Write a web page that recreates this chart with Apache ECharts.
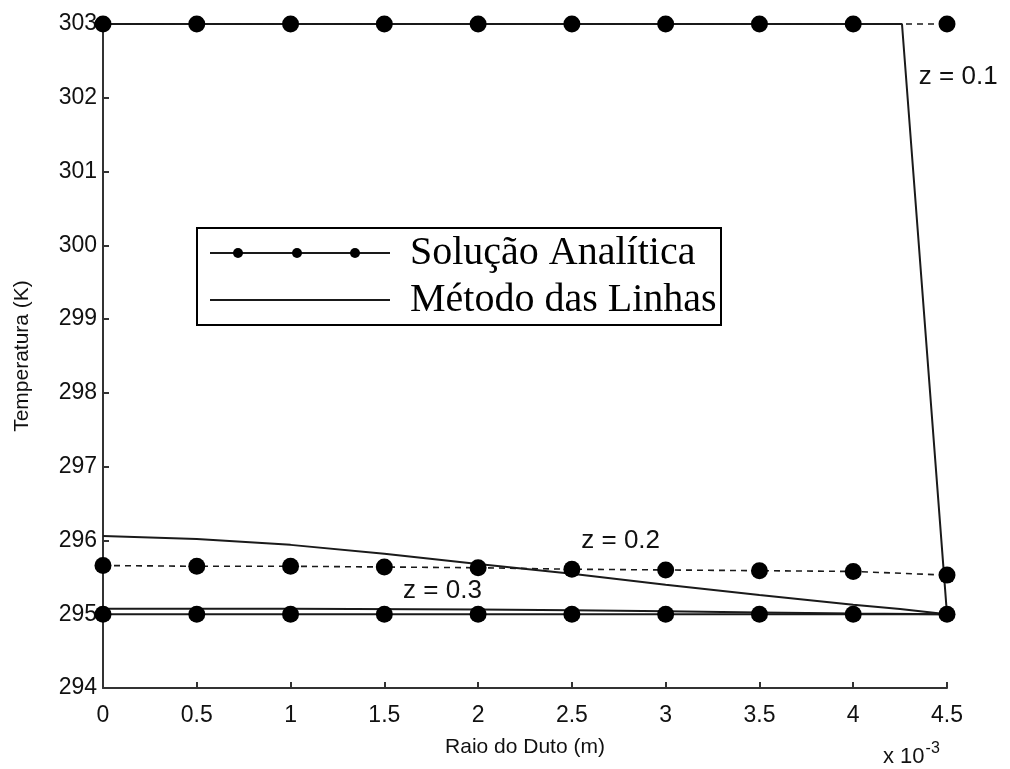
<!DOCTYPE html>
<html>
<head>
<meta charset="utf-8">
<script src="https://cdn.jsdelivr.net/npm/echarts@6/dist/echarts.min.js"></script>
<style>
  html, body { margin: 0; padding: 0; background: #fff; }
  #chart { width: 1010px; height: 769px; }
</style>
</head>
<body>
<div id="chart"></div>
<script>
// Radial positions (x 10^-3 m) of the analytic solution samples
const raio = [0, 0.5, 1.0, 1.5, 2.0, 2.5, 3.0, 3.5, 4.0, 4.5];

// Analytic solution, temperature (K) at each radial sample
const analitica01 = [303, 303, 303, 303, 303, 303, 303, 303, 303, 303];
const analitica02 = [295.66, 295.65, 295.65, 295.64, 295.63, 295.61, 295.60, 295.59, 295.58, 295.53];
const analitica03 = [295.0, 295.0, 295.0, 295.0, 295.0, 295.0, 295.0, 295.0, 295.0, 295.0];

// Method of lines, radial nodes and temperatures (K)
const linhasX01 = [0, 4.26, 4.5];
const linhasY01 = [303, 303, 295.0];
const linhasX02 = [0, 0.5, 1.0, 1.5, 2.0, 2.5, 3.0, 3.5, 4.0, 4.25, 4.5];
const linhasY02 = [296.06, 296.02, 295.94, 295.82, 295.68, 295.55, 295.40, 295.26, 295.13, 295.07, 295.0];
const linhasX03 = [0, 1.0, 2.0, 2.5, 3.0, 3.5, 4.0, 4.5];
const linhasY03 = [295.075, 295.073, 295.065, 295.055, 295.04, 295.025, 295.01, 295.0];

// Axis ranges and labels
const xRange = [0, 4.5, 0.5];
const yRange = [294, 303, 1];
const xTitle = 'Raio do Duto (m)';
const yTitle = 'Temperatura (K)';
const legendNames = ['Solução Analítica', 'Método das Linhas'];
const curveLabels = [
  { text: 'z = 0.1', at: [4.35, 302.28] },
  { text: 'z = 0.2', at: [2.55, 296.0] },
  { text: 'z = 0.3', at: [1.6, 295.32] }
];

const pairs = (xs, ys) => xs.map((x, i) => [x, ys[i]]);

const INK = '#111';
const LINE = '#1a1a1a';
const tickFont = { fontFamily: 'Liberation Sans, Arial, sans-serif', fontSize: 23, color: INK };

function analytic(ys, dashed) {
  return {
    type: 'line', name: legendNames[0], data: pairs(raio, ys),
    symbol: 'circle', symbolSize: 17, clip: false, z: 5,
    itemStyle: { color: '#000' },
    lineStyle: { color: LINE, width: dashed ? 1.6 : 2, type: dashed ? [6, 5] : 'solid' },
    emphasis: { disabled: true }, animation: false
  };
}
function linhas(xs, ys) {
  return {
    type: 'line', name: legendNames[1], data: pairs(xs, ys),
    symbol: 'none', clip: false, z: 3,
    lineStyle: { color: LINE, width: 2 },
    emphasis: { disabled: true }, animation: false
  };
}

const chart = echarts.init(document.getElementById('chart'), null, { renderer: 'canvas' });

const option = {
  backgroundColor: '#fff',
  animation: false,
  grid: { left: 103, top: 24, right: 63, bottom: 81, containLabel: false },
  xAxis: {
    type: 'value', min: xRange[0], max: xRange[1], interval: xRange[2],
    name: xTitle, nameLocation: 'middle', nameGap: 49,
    nameTextStyle: { fontFamily: 'Liberation Sans, Arial, sans-serif', fontSize: 21, color: INK },
    axisLine: { show: true, onZero: false, lineStyle: { color: '#333', width: 2 } },
    axisTick: { show: true, inside: true, length: 6, lineStyle: { color: '#333', width: 2 } },
    axisLabel: Object.assign({ margin: 16 }, tickFont),
    splitLine: { show: false }
  },
  yAxis: {
    type: 'value', min: yRange[0], max: yRange[1], interval: yRange[2],
    name: yTitle, nameLocation: 'middle', nameGap: 70, nameRotate: 90,
    nameTextStyle: { fontFamily: 'Liberation Sans, Arial, sans-serif', fontSize: 21, color: INK },
    axisLine: { show: true, onZero: false, lineStyle: { color: '#333', width: 2 } },
    axisTick: { show: true, inside: true, length: 6, lineStyle: { color: '#333', width: 2 } },
    axisLabel: Object.assign({ margin: 6 }, tickFont),
    splitLine: { show: false }
  },
  series: [
    linhas(linhasX01, linhasY01),
    linhas(linhasX02, linhasY02),
    linhas(linhasX03, linhasY03),
    analytic(analitica01, true),
    analytic(analitica02, true),
    analytic(analitica03, false)
  ]
};
chart.setOption(option);

// Curve annotations placed in data coordinates
const labelFont = '26px "Liberation Sans", Arial, sans-serif';
const annotations = curveLabels.map(l => {
  const p = chart.convertToPixel({ gridIndex: 0 }, l.at);
  return {
    type: 'text', x: p[0], y: p[1], z: 10,
    style: { text: l.text, font: labelFont, fill: INK, textAlign: 'left', textVerticalAlign: 'middle' }
  };
});

// Axis multiplier "x 10^-3" under the right end of the x axis
const multiplier = {
  type: 'text', x: 883, y: 757, z: 10,
  style: {
    text: '{a|x 10}{b|-3}',
    textVerticalAlign: 'middle',
    rich: {
      a: { fontFamily: 'Liberation Sans, Arial, sans-serif', fontSize: 22, fill: INK, color: INK },
      b: { fontFamily: 'Liberation Sans, Arial, sans-serif', fontSize: 16, fill: INK, color: INK, padding: [0, 0, 16, 1] }
    }
  }
};

// Boxed legend: a line with three dots for the analytic solution, a plain line for the method of lines
const lg = { x: 197, y: 228, w: 524, h: 97 };
const row1 = lg.y + 25, row2 = lg.y + 72;
const legendFont = '40px "Liberation Serif", "Times New Roman", serif';
const legendGroup = {
  type: 'group', z: 20,
  children: [
    { type: 'rect', shape: { x: lg.x, y: lg.y, width: lg.w, height: lg.h },
      style: { fill: '#fff', stroke: '#000', lineWidth: 2 } },
    { type: 'line', shape: { x1: 210, y1: row1, x2: 390, y2: row1 }, style: { stroke: LINE, lineWidth: 2 } },
    { type: 'circle', shape: { cx: 238, cy: row1, r: 5 }, style: { fill: '#000' } },
    { type: 'circle', shape: { cx: 297, cy: row1, r: 5 }, style: { fill: '#000' } },
    { type: 'circle', shape: { cx: 355, cy: row1, r: 5 }, style: { fill: '#000' } },
    { type: 'line', shape: { x1: 210, y1: row2, x2: 390, y2: row2 }, style: { stroke: LINE, lineWidth: 2 } },
    { type: 'text', x: 410, y: row1, style: { text: legendNames[0], font: legendFont, fill: '#000', textVerticalAlign: 'middle' } },
    { type: 'text', x: 410, y: row2, style: { text: legendNames[1], font: legendFont, fill: '#000', textVerticalAlign: 'middle' } }
  ]
};

chart.setOption({ graphic: [legendGroup, multiplier].concat(annotations) });
</script>
</body>
</html>
